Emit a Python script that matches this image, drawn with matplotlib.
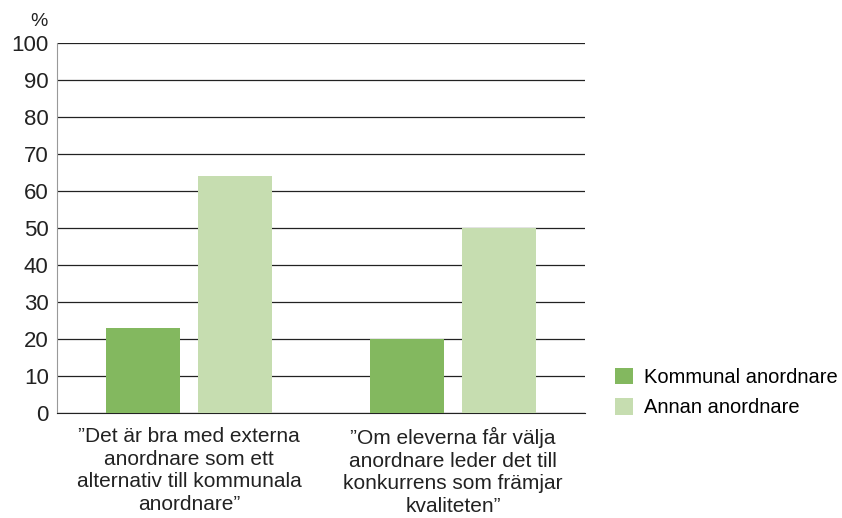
import matplotlib.pyplot as plt
import numpy as np

plt.rcParams['font.family'] = ['Liberation Sans', 'DejaVu Sans']

categories = ['\u201dDet är bra med externa\nanordnare som ett\nalternativ till kommunala\nanordnare\u201d',
              '\u201dOm eleverna får välja\nanordnare leder det till\nkonkurrens som främjar\nkvaliteten\u201d']
kommunal = [23, 20]
annan = [64, 50]
series_names = ['Kommunal anordnare', 'Annan anordnare']
colors = ['#83b85f', '#c6ddb0']

fig = plt.figure(figsize=(8.42, 5.18), dpi=100)
ax = fig.add_axes([0.0677, 0.2027, 0.6271, 0.7143])

x = np.arange(len(categories))
w = 0.28
off = 0.174
ax.bar(x - off, kommunal, w, color=colors[0], label=series_names[0], zorder=3)
ax.bar(x + off, annan, w, color=colors[1], label=series_names[1], zorder=3)

ax.set_xlim(-0.5, 1.5)
ax.set_ylim(0, 100)
ax.set_yticks(range(0, 101, 10))
ax.yaxis.grid(True, color='#222222', linewidth=0.9, zorder=0)
ax.set_axisbelow(True)
for s in ['top', 'right']:
    ax.spines[s].set_visible(False)
ax.spines['left'].set_color('#999999')
ax.spines['bottom'].set_color('#222222')
ax.tick_params(axis='y', length=0, labelsize=16, pad=6, colors='#222222')
ax.tick_params(axis='x', length=0, labelsize=15, pad=10, colors='#222222')
ax.set_xticks(x)
ax.set_xticklabels(categories, linespacing=1.25)
ax.text(-0.017, 1.035, '%', transform=ax.transAxes, fontsize=14, ha='right', va='bottom', color='#222222')

ax.legend(loc='lower left', bbox_to_anchor=(1.057, -0.012), frameon=False, fontsize=14.5,
          borderpad=0, borderaxespad=0, handlelength=0.9, handleheight=0.9,
          handletextpad=0.55, labelspacing=0.55)

fig.savefig('out.png', dpi=100)
